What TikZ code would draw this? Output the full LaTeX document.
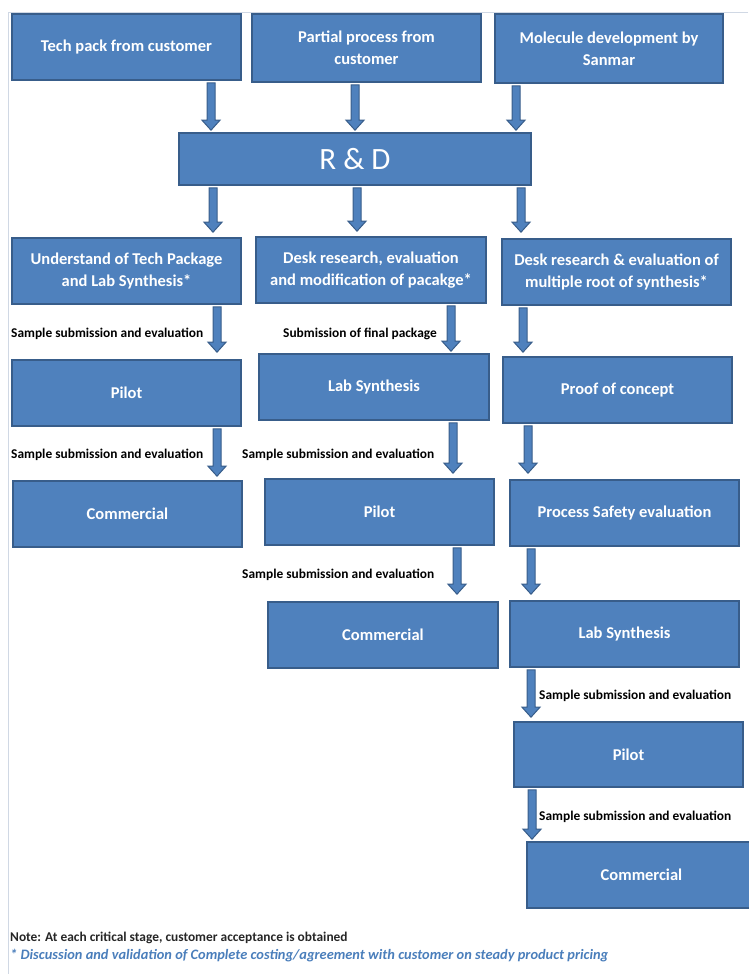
\documentclass[tikz,border=0pt]{standalone}
\usepackage{fontspec}
\setmainfont{Carlito}
\usetikzlibrary{calc}
\definecolor{boxfill}{HTML}{4F81BD}
\definecolor{boxline}{HTML}{385D8A}
\definecolor{notecol}{HTML}{262626}
\definecolor{starcol}{HTML}{4A7EBB}
\definecolor{framecol}{HTML}{D0D8E4}
\tikzset{
  box/.style={draw=boxline, fill=boxfill, line width=1.6pt, text=white,
    font=\bfseries\fontsize{16.5}{22}\selectfont, align=center, inner sep=0pt},
  lbl/.style={font=\bfseries\fontsize{13.4}{15}\selectfont, anchor=west, inner sep=0pt, text=black},
  barrowsty/.style={draw=boxline, fill=boxfill, line width=1pt, line join=miter},
}
% box: name, x1, y1, x2, y2, text
\newcommand\bx[6]{\node[box, minimum width={(#4-#2)*1pt}, minimum height={(#5-#3)*1pt}]
  (#1) at ({(#2+#4)/2},{(#3+#5)/2}) {#6};}
% block arrow: x, from, to, gap at tip
\newcommand\barrow[4]{\path[barrowsty] let \p1=(#2.south), \p2=(#3.north) in
  ({#1pt-4pt},{\y1-2pt}) -- ({#1pt-4pt},{\y2+#4pt+10pt}) -- ({#1pt-9pt},{\y2+#4pt+10pt})
  -- ({#1pt},{\y2+#4pt}) -- ({#1pt+9pt},{\y2+#4pt+10pt}) -- ({#1pt+4pt},{\y2+#4pt+10pt})
  -- ({#1pt+4pt},{\y1-2pt}) -- cycle;}
\begin{document}
\begin{tikzpicture}[x=1pt,y=-1pt]
\useasboundingbox (0,0) rectangle (748,974);
\draw[framecol, line width=1pt] (748,13) -- (8,13) -- (8,974);
% top row
\bx{tech}{12}{14}{241}{80}{Tech pack from customer}
\bx{partial}{252}{14}{481}{82}{Partial process from\\customer}
\bx{mol}{495}{14}{723}{83}{Molecule development by\\Sanmar}
\node[box, minimum width=352pt, minimum height=52pt, font=\fontsize{31}{33}\selectfont] (rd) at (355,159) {R \& D};
% row 2
\bx{und}{12}{238}{241}{304}{Understand of Tech Package\\and Lab Synthesis*}
\bx{deskA}{256}{237}{486}{303}{Desk research, evaluation\\and modification of pacakge*}
\bx{deskB}{502}{239}{731}{305}{Desk research \& evaluation of\\multiple root of synthesis*}
% row 3
\bx{pilotA}{12}{360}{241}{426}{Pilot}
\bx{labB}{259}{354}{489}{420}{Lab Synthesis}
\bx{poc}{503}{357}{732}{423}{Proof of concept}
% row 4
\bx{commA}{13}{481}{242}{547}{Commercial}
\bx{pilotB}{265}{479}{494}{545}{Pilot}
\bx{pse}{510}{480}{739}{546}{Process Safety evaluation}
% row 5
\bx{commB}{268}{602}{498}{668}{Commercial}
\bx{labC}{510}{601}{739}{667}{Lab Synthesis}
% row 6, 7
\bx{pilotC}{514}{722}{743}{787}{Pilot}
\node[box, minimum width=229pt, minimum height=66pt] (commC) at (641.5,875) {Commercial};
% arrows
\barrow{211}{tech}{rd}{2}
\barrow{355}{partial}{rd}{2}
\barrow{516}{mol}{rd}{2}
\barrow{213}{rd}{und}{5}
\barrow{357}{rd}{deskA}{5}
\barrow{521}{rd}{deskB}{6}
\barrow{217}{und}{pilotA}{7}
\barrow{451}{deskA}{labB}{2}
\barrow{523}{deskB}{poc}{4}
\barrow{217}{pilotA}{commA}{4}
\barrow{453}{labB}{pilotB}{5}
\barrow{528}{poc}{pse}{6}
\barrow{457}{pilotB}{commB}{7}
\barrow{531}{pse}{labC}{6}
\barrow{531}{labC}{pilotC}{4}
\barrow{532}{pilotC}{commC}{2}
% labels
\node[lbl] (l1) at (11,334) {Sample submission and evaluation};
\node[lbl] (l2) at (283,334) {Submission of final package};
\node[lbl] (l3) at (11,455) {Sample submission and evaluation};
\node[lbl] (l4) at (242,455) {Sample submission and evaluation};
\node[lbl] (l5) at (242,575) {Sample submission and evaluation};
\node[lbl] (l6) at (539,696) {Sample submission and evaluation};
\node[lbl] (l7) at (539,817) {Sample submission and evaluation};
% notes
\node[lbl, text=notecol] (n1) at (10,938) {Note: At each critical stage, customer acceptance is obtained};
\node[lbl, text=starcol, font=\bfseries\itshape\fontsize{14.4}{16}\selectfont] (n2) at (10,956) {* Discussion and validation of Complete costing/agreement with customer on steady product pricing};
\end{tikzpicture}
\end{document}
